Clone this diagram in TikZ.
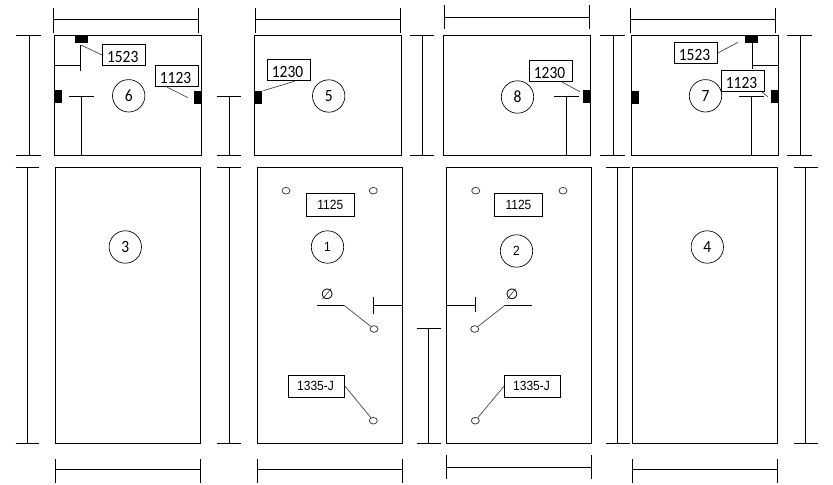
\documentclass[tikz,border=0pt]{standalone}
\usepackage{fontspec}
\usepackage{graphicx}
\setmainfont{Liberation Sans}
\newfontfamily\humfont{Carlito}
\newfontfamily\symfont{DejaVu Sans}
\newcommand{\panelbox}[4]{\draw[panelline] (#1,#2) rectangle (#3,#4);}
\newcommand{\hdim}[5]{\draw[dimline] (#1,#3) -- (#2,#3) (#1,#4) -- (#1,#5) (#2,#4) -- (#2,#5);}
\newcommand{\vdim}[5]{\draw[dimline] (#1,#2) -- (#1,#3) (#4,#2) -- (#5,#2) (#4,#3) -- (#5,#3);}
\newcommand{\blackpad}[4]{\fill[black] (#1,#2) rectangle (#3,#4);}
\newcommand{\tagnum}[1]{\kern-2.2pt\scalebox{0.9}[1]{#1}}
\newcommand{\slim}[1]{\scalebox{0.9}[1]{#1}}
\tikzset{
  panelline/.style={line width=0.8pt,black},
  dimline/.style={line width=0.75pt,black},
  leader/.style={line width=0.55pt,black!70},
  tag/.style={draw=black,line width=0.7pt,fill=white,inner sep=0pt,minimum width=32.5pt,minimum height=16pt,text height=11pt,text depth=0pt,font=\humfont\fontsize{12.9}{13}\selectfont},
  smalltag/.style={draw=black,line width=0.6pt,fill=white,inner sep=0pt,font=\fontsize{10}{11}\selectfont},
  bubble/.style={circle,draw=black,line width=0.5pt,inner sep=0pt,minimum size=24.3pt,font=\humfont\fontsize{12.9}{13}\selectfont},
  arialbubble/.style={bubble,font=\fontsize{10}{11}\selectfont},
  hole/.style={ellipse,draw=black!75,line width=0.6pt,inner sep=0pt,minimum width=6pt,minimum height=5pt},
  dia/.style={inner sep=0pt,font=\symfont\itshape\fontsize{11}{12}\selectfont},
}
\usetikzlibrary{shapes.geometric}
\begin{document}
\begin{tikzpicture}[x=0.75pt,y=-0.75pt]
\useasboundingbox (0,0) rectangle (833,485);
% panels
\panelbox{54.3}{35.3}{201.3}{155.3}
\panelbox{254.3}{35.3}{401.3}{155.3}
\panelbox{443.3}{35.3}{590.3}{155.3}
\panelbox{631.3}{35.3}{778.3}{155.3}
\panelbox{55.3}{167.3}{200.7}{443.3}
\panelbox{257.3}{167.3}{402.3}{443.3}
\panelbox{446.3}{167.3}{591.3}{443.3}
\panelbox{632.3}{167.3}{777.3}{443.3}
% top width dimensions
\hdim{53.3}{198.3}{19.3}{8.3}{33}
\hdim{255.7}{400.3}{19.3}{8.3}{33}
\hdim{444.7}{589.3}{17.3}{4.7}{29.3}
\hdim{630.3}{775.3}{19.3}{8.3}{33}
% bottom width dimensions
\hdim{55.3}{200.7}{469.3}{459}{483.3}
\hdim{257.7}{402.3}{469.3}{458.7}{483.3}
\hdim{446.3}{591.3}{467.3}{455}{479.3}
\hdim{632.7}{777.3}{469.3}{459}{483.3}
% top height dimensions
\vdim{29.3}{35.3}{155.3}{16}{40.7}
\vdim{229.3}{96.3}{155.3}{216.5}{241.2}
\vdim{422.7}{35.3}{155.3}{409.5}{434}
\vdim{613.3}{35.3}{155.3}{600}{625}
\vdim{800.7}{35.3}{155.3}{786.7}{811.7}
% bottom height dimensions
\vdim{27.3}{167.3}{443.3}{15.7}{39}
\vdim{229.3}{167.3}{443.3}{216.7}{240.7}
\vdim{428.3}{328.3}{443.3}{416.7}{440.7}
\vdim{617.3}{167.3}{443.3}{605.7}{630}
\vdim{805.3}{167.3}{443.3}{794}{818.3}
% black pads
\blackpad{75}{35.3}{88}{43}
\blackpad{54.3}{90}{62}{103}
\blackpad{194}{90.7}{201.3}{104}
\blackpad{254.3}{91}{262}{103.7}
\blackpad{583}{90}{590.3}{103}
\blackpad{745}{35.3}{758}{43}
\blackpad{631.3}{91}{639}{103.7}
\blackpad{771}{90}{778.3}{103}
% inner dimensions, upper panels
\draw[dimline] (54.3,65.7) -- (80.7,65.7) (80.7,45.3) -- (80.7,71);
\draw[dimline] (69,96.3) -- (94,96.3) (81.3,96.3) -- (81.3,155.3);
\draw[dimline] (554,96.3) -- (579,96.3) (566.7,96.3) -- (566.7,155.3);
\draw[dimline] (752.3,43) -- (752.3,69) (752.3,65.3) -- (778.3,65.3);
\draw[dimline] (739,96.3) -- (764,96.3) (751.3,96.3) -- (751.3,155.3);
% inner dimensions, lower panels
\draw[dimline] (373.3,296.7) -- (373.3,314) (373.3,305.3) -- (402.3,305.3);
\draw[dimline] (475.3,297) -- (475.3,312) (446.3,305.3) -- (475.3,305.3);
% number bubbles
\node[bubble] (c6) at (128.7,95.8) {\slim{6}};
\node[bubble] (c5) at (328.7,96) {\slim{5}};
\node[bubble] (c8) at (517.5,97) {\slim{8}};
\node[bubble] (c7) at (705.5,95.8) {\slim{7}};
\node[bubble] (c3) at (125.3,247) {\slim{3}};
\node[bubble] (c4) at (707.3,247) {\slim{4}};
\node[arialbubble] (c1) at (327.5,247) {\slim{1}};
\node[arialbubble] (c2) at (516.5,251) {\slim{2}};
% tags, upper panels
\node[tag] (t6a) at (124.2,55) {\tagnum{1523}};
\node[tag] (t6b) at (177,76) {\tagnum{1123}};
\node[tag] (t5) at (289,70) {\tagnum{1230}};
\node[tag] (t8) at (551,71) {\tagnum{1230}};
\node[tag] (t7a) at (696,52.8) {\tagnum{1523}};
\node[tag] (t7b) at (743,81) {\tagnum{1123}};
% free ends of leaders
\coordinate (e6a) at (81,45);
\coordinate (e6b) at (188,97.7);
\coordinate (e5) at (263.3,90.7);
\coordinate (e8) at (580,91.7);
\coordinate (e7a) at (738,42.3);
\coordinate (e7b) at (767.7,96.7);
\draw[leader] (t6a.west) -- (e6a);
\draw[leader] (t6b.-132) -- (e6b);
\draw[leader] (t5.-62) -- (e5);
\draw[leader] (t8.-45) -- (e8);
\draw[leader] (t7a.east) -- (e7a);
\draw[leader] (t7b.-30) -- (e7b);
% lower panel hardware
\node[hole] (h1a) at (286,190.7) {};
\node[hole] (h1b) at (373.3,190.7) {};
\node[hole] (h1c) at (374,329) {};
\node[hole] (h1d) at (373.3,420.7) {};
\node[hole] (h2a) at (475.7,190.7) {};
\node[hole] (h2b) at (563,190.7) {};
\node[hole] (h2c) at (474.7,329) {};
\node[hole] (h2d) at (475.3,420.7) {};
\node[smalltag,minimum width=36pt,minimum height=17.5pt] (m1) at (330.3,205) {\slim{1125}};
\node[smalltag,minimum width=36pt,minimum height=17.5pt] (m2) at (518.5,205) {\slim{1125}};
\node[smalltag,minimum width=42.3pt,minimum height=16.5pt] (j1) at (316.5,386.3) {\kern-1.5pt\slim{1335-J}};
\node[smalltag,minimum width=42.3pt,minimum height=16.5pt] (j2) at (532.5,386.3) {\kern-1.5pt\slim{1335-J}};
\draw[leader] (j1.east) -- (h1d);
\draw[leader] (j2.west) -- (h2d);
\node[dia] (d1) at (327.3,294) {∅};
\node[dia] (d2) at (512,294) {∅};
\coordinate (s1) at (316.7,305.3);
\coordinate (s1k) at (344,305.3);
\coordinate (s2) at (532.3,305.3);
\coordinate (s2k) at (505,305.3);
\draw[dimline] (s1) -- (s1k);
\draw[dimline] (s2) -- (s2k);
\draw[leader] (s1k) -- (h1c);
\draw[leader] (s2k) -- (h2c);
\end{tikzpicture}
\end{document}
